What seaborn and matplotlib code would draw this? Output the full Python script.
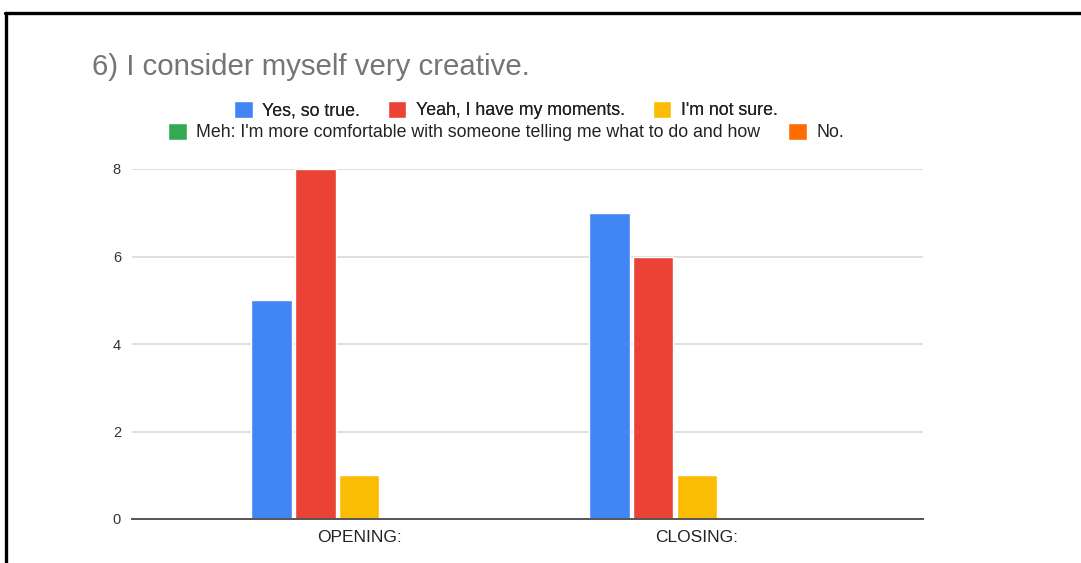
import matplotlib
matplotlib.use("Agg")
import matplotlib.pyplot as plt
from matplotlib.lines import Line2D
import pandas as pd
import seaborn as sns

# Survey responses, counted per session
sessions = ["OPENING:", "CLOSING:"]
answers = [
    "Yes, so true.",
    "Yeah, I have my moments.",
    "I'm not sure.",
    "Meh: I'm more comfortable with someone telling me what to do and how",
    "No.",
]
yes_so_true = [5, 7]
have_my_moments = [8, 6]
not_sure = [1, 1]
meh = [0, 0]
no = [0, 0]
yticks = [0, 2, 4, 6, 8]
title = "6) I consider myself very creative."

colors = ["#4285F4", "#EA4335", "#FBBC04", "#34A853", "#FF6D01"]

series = [yes_so_true, have_my_moments, not_sure, meh, no]
rows = []
for answer, vals in zip(answers, series):
    for session, v in zip(sessions, vals):
        rows.append({"session": session, "answer": answer, "count": v})
df = pd.DataFrame(rows)

sns.set_style("white")
plt.rcParams["font.family"] = ["Liberation Sans", "DejaVu Sans"]

W, H = 1081, 563
fig = plt.figure(figsize=(W / 100, H / 100), dpi=100)
ax = fig.add_axes([132 / W, 1 - 519 / H, 791 / W, 350 / H])

sns.barplot(
    data=df, x="session", y="count", hue="answer",
    order=sessions, hue_order=answers, palette=colors,
    width=0.65, gap=0.07, saturation=1, errorbar=None, ax=ax,
)

handles, labels = ax.get_legend_handles_labels()
ax.get_legend().remove()

ax.set_xlim(-0.672, 1.669)
ax.set_ylim(0, 8)
ax.set_yticks(yticks)
ax.set_yticklabels([str(t) for t in yticks])
ax.set_xlabel("")
ax.set_ylabel("")

ax.yaxis.grid(True, color="#D6D6D6", linewidth=1.1)
ax.set_axisbelow(True)
for side in ["left", "right", "top"]:
    ax.spines[side].set_visible(False)
ax.spines["bottom"].set_color("#555555")
ax.spines["bottom"].set_linewidth(1.4)
ax.spines["bottom"].set_zorder(5)

ax.tick_params(axis="y", length=0, pad=8, labelsize=10.5, labelcolor="#333333")
ax.tick_params(axis="x", length=0, pad=8, labelsize=12.5, labelcolor="#222222")

# Title
fig.text(92 / W, 1 - 75 / H, title, fontsize=21.2, color="#757575",
         ha="left", va="baseline")

# Two-row legend, centred
legend_kw = dict(
    loc="center", frameon=False, fontsize=12.8, handlelength=1.05,
    handleheight=1.15, handletextpad=0.55, columnspacing=1.55,
    borderpad=0, borderaxespad=0, labelcolor="#222222",
)
leg1 = fig.legend(handles[:3], labels[:3], ncol=3,
                  bbox_to_anchor=(506 / W, 1 - 110 / H), **legend_kw)
fig.add_artist(leg1)
fig.legend(handles[3:], labels[3:], ncol=2,
           bbox_to_anchor=(506 / W, 1 - 132 / H), **legend_kw)

# Frame edges along the top and left
fig.add_artist(Line2D([5 / W, 1], [1 - 12.5 / H, 1 - 12.5 / H],
                      transform=fig.transFigure, color="black", linewidth=2.4))
fig.add_artist(Line2D([6 / W, 6 / W], [0, 1 - 12.5 / H],
                      transform=fig.transFigure, color="black", linewidth=2.4))

fig.savefig("out.png", dpi=100, facecolor="white")
